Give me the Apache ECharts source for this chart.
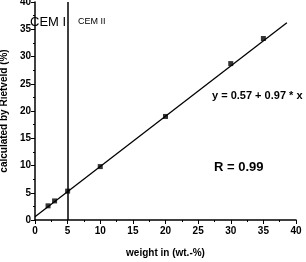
<!DOCTYPE html>
<html>
<head>
<meta charset="utf-8">
<script src="https://cdn.jsdelivr.net/npm/echarts@6/dist/echarts.min.js"></script>
<style>
  html, body { margin: 0; padding: 0; background: #fff; }
  #chart { width: 306px; height: 262px; }
</style>
</head>
<body>
<div id="chart"></div>
<script>
// measured points (weight vs Rietveld)
var weightX = [2, 3, 5, 10, 20, 30, 35];
var rietveldY = [2.6, 3.5, 5.3, 9.8, 19.0, 28.7, 33.3];
// fitted line end points as drawn
var fitLine = [[0, 0.6], [38.6, 36.2]];
var cemBorder = 5;

var font = '"Liberation Sans Narrow", "Liberation Sans", Arial, sans-serif';

var chart = echarts.init(document.getElementById('chart'));

var points = weightX.map(function (x, i) { return [x, rietveldY[i]]; });

var option = {
  animation: false,
  grid: { left: 35, right: 10, top: 2, bottom: 42, outerBoundsMode: 'none', containLabel: false },
  xAxis: {
    type: 'value', min: 0, max: 40, interval: 5,
    name: 'weight in (wt.-%)',
    nameLocation: 'middle', nameGap: 28,
    nameTextStyle: { fontFamily: font, fontWeight: 'bold', fontSize: 10, color: '#000' },
    axisLine: { lineStyle: { color: '#000', width: 1.5 } },
    axisTick: { length: 4, lineStyle: { color: '#000' } },
    minorTick: { show: true, splitNumber: 2, length: 2, lineStyle: { color: '#000' } },
    axisLabel: { fontFamily: font, fontWeight: 'bold', fontSize: 10, color: '#000', margin: 6 },
    splitLine: { show: false }
  },
  yAxis: {
    type: 'value', min: 0, max: 40, interval: 5,
    name: 'calculated by Rietveld (%)',
    nameLocation: 'middle', nameGap: 22,
    nameTextStyle: { fontFamily: font, fontWeight: 'bold', fontSize: 10, color: '#000' },
    axisLine: { show: true, lineStyle: { color: '#000', width: 1.5 } },
    axisTick: { show: true, length: 4, lineStyle: { color: '#000' } },
    minorTick: { show: true, splitNumber: 2, length: 2, lineStyle: { color: '#000' } },
    axisLabel: { fontFamily: font, fontWeight: 'bold', fontSize: 10, color: '#000', margin: 4 },
    splitLine: { show: false }
  },
  series: [
    {
      type: 'line',
      data: fitLine,
      symbol: 'none',
      lineStyle: { color: '#000', width: 1.3 },
      markLine: {
        silent: true,
        symbol: 'none',
        label: { show: false },
        lineStyle: { color: '#000', width: 1.5, type: 'solid' },
        data: [{ xAxis: cemBorder }]
      }
    },
    {
      type: 'scatter',
      data: points,
      symbol: 'rect',
      symbolSize: 5,
      itemStyle: { color: '#000' }
    }
  ],
  graphic: [
    { type: 'text', left: 30, top: 16, style: { text: 'CEM I', font: '13px ' + font, fill: '#000' } },
    { type: 'text', left: 78, top: 17, style: { text: 'CEM II', font: '9px ' + font, fill: '#000' } },
    { type: 'text', left: 212, top: 90, style: { text: 'y = 0.57 + 0.97 * x', font: 'bold 11px ' + font, fill: '#000' } },
    { type: 'text', left: 214, top: 161, style: { text: 'R = 0.99', font: 'bold 13px ' + font, fill: '#000' } }
  ]
};

chart.setOption(option);
</script>
</body>
</html>
